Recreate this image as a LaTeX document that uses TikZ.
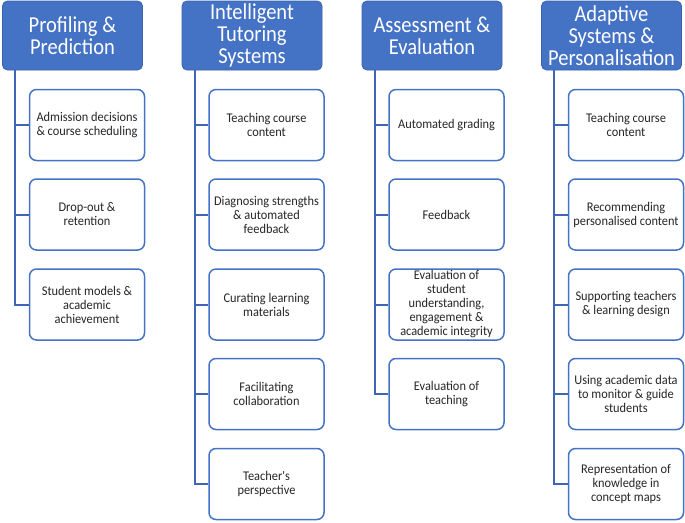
\documentclass[tikz,border=0pt]{standalone}
\usepackage{fontspec}
\setmainfont{Carlito}
\newfontfamily\headfont[FakeStretch=0.9]{Carlito}
\newfontfamily\childfont[FakeStretch=0.93]{Carlito}
\definecolor{hfill}{HTML}{4472C4}
\definecolor{hdraw}{HTML}{3A62AE}
\definecolor{cdraw}{HTML}{4472C4}
\definecolor{conncol}{HTML}{3F66B4}
\definecolor{txt}{HTML}{262626}
\begin{document}
\begin{tikzpicture}[x=1pt,y=-1pt,
  headbox/.style={draw=hdraw,line width=0.8pt,fill=hfill,rounded corners=5pt,
    minimum width=140pt,minimum height=69pt,inner sep=0pt,align=center,
    text=white,font=\headfont\fontsize{22.8}{22}\selectfont},
  childbox/.style={draw=cdraw,line width=1.5pt,fill=white,rounded corners=7pt,
    minimum width=115pt,minimum height=71pt,inner sep=0pt,align=center,
    text=txt,font=\childfont\fontsize{13.3}{14}\selectfont},
  conn/.style={draw=conncol,line width=2pt}]
\useasboundingbox (0,0) rectangle (685,522);
% headers
\node[headbox] (h1) at (72.5,35.5) {Profiling \&\\Prediction};
\node[headbox] (h2) at (252,35.5) {Intelligent\\Tutoring\\Systems};
\node[headbox] (h3) at (432,35.5) {Assessment \&\\Evaluation};
\node[headbox] (h4) at (611.5,35.5) {Adaptive\\Systems \&\\Personalisation};
% column 1
\node[childbox] (c11) at (87,125) {Admission decisions\\\& course scheduling};
\node[childbox] (c12) at (87,214.5) {Drop-out \&\\retention};
\node[childbox] (c13) at (87,304.5) {Student models \&\\academic\\achievement};
% column 2
\node[childbox] (c21) at (266.5,125) {Teaching course\\content};
\node[childbox] (c22) at (266.5,214.5) {Diagnosing strengths\\\& automated\\feedback};
\node[childbox] (c23) at (266.5,304.5) {Curating learning\\materials};
\node[childbox] (c24) at (266.5,394) {Facilitating\\collaboration};
\node[childbox] (c25) at (266.5,484) {Teacher's\\perspective};
% column 3
\node[childbox] (c31) at (446.5,125) {Automated grading};
\node[childbox] (c32) at (446.5,214.5) {Feedback};
\node[childbox] (c33) at (446.5,304.5) {Evaluation of\\student\\understanding,\\engagement \&\\academic integrity};
\node[childbox] (c34) at (446.5,394) {Evaluation of\\teaching};
% column 4
\node[childbox] (c41) at (626,125) {Teaching course\\content};
\node[childbox] (c42) at (626,214.5) {Recommending\\personalised content};
\node[childbox] (c43) at (626,304.5) {Supporting teachers\\\& learning design};
\node[childbox] (c44) at (626,394) {Using academic data\\to monitor \& guide\\students};
\node[childbox] (c45) at (626,484) {Representation of\\knowledge in\\concept maps};
% connectors
\foreach \k in {1,2,3} \draw[conn] ([xshift=13pt]h1.south west) |- (c1\k.west);
\foreach \k in {1,...,5} \draw[conn] ([xshift=13pt]h2.south west) |- (c2\k.west);
\foreach \k in {1,...,4} \draw[conn] ([xshift=13pt]h3.south west) |- (c3\k.west);
\foreach \k in {1,...,5} \draw[conn] ([xshift=13pt]h4.south west) |- (c4\k.west);
\end{tikzpicture}
\end{document}
